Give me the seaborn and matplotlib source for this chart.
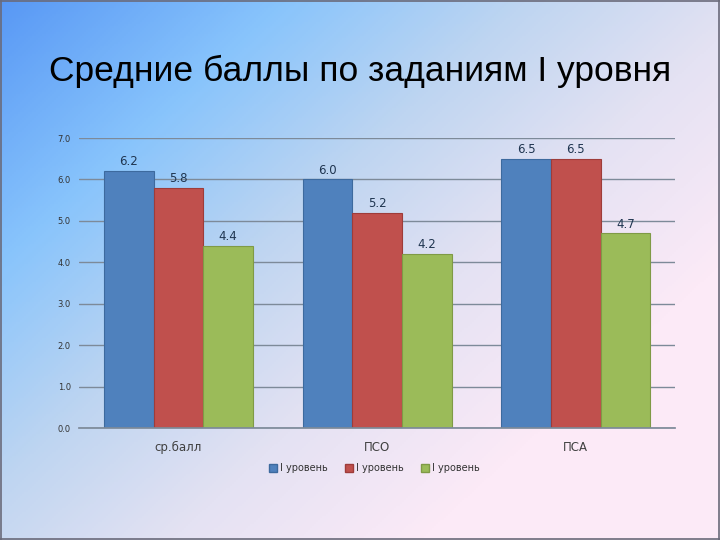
import numpy as np
import pandas as pd
import matplotlib
matplotlib.use("Agg")
import matplotlib.pyplot as plt
import seaborn as sns
from matplotlib.colors import LinearSegmentedColormap
from matplotlib.patches import Patch

categories = ["ср.балл", "ПСО", "ПСА"]
series_keys = ["s1", "s2", "s3"]
series_labels = ["I уровень", "I уровень", "I уровень"]
values_s1 = [6.2, 6.0, 6.5]
values_s2 = [5.8, 5.2, 6.5]
values_s3 = [4.4, 4.2, 4.7]
value_texts_s1 = ["6.2", "6.0", "6.5"]
value_texts_s2 = ["5.8", "5.2", "6.5"]
value_texts_s3 = ["4.4", "4.2", "4.7"]
y_ticks = [0, 1, 2, 3, 4, 5, 6, 7]
title = "Средние баллы по заданиям I уровня"
colors = ["#4f81bd", "#c0504d", "#9bbb59"]
edges = ["#3d6a9e", "#9e3c3a", "#7f9a46"]

df = pd.DataFrame({
    "cat": categories * 3,
    "series": [series_keys[0]] * 3 + [series_keys[1]] * 3 + [series_keys[2]] * 3,
    "val": values_s1 + values_s2 + values_s3,
})

sns.set_theme(style="white")
plt.rcParams["font.family"] = ["DejaVu Sans"]

fig = plt.figure(figsize=(7.2, 5.4), dpi=100)

# background gradient
bg = fig.add_axes([0, 0, 1, 1])
H, W = 270, 360
u = np.linspace(0, 1, W)[None, :]
v = np.linspace(0, 1, H)[:, None]
t = np.clip((u * 1.1 + v * 0.9) / 1.55, 0, 1)
cmap = LinearSegmentedColormap.from_list("bg", [
    (0.0, (88/255, 152/255, 245/255)),
    (0.28, (136/255, 196/255, 252/255)),
    (0.52, (190/255, 213/255, 241/255)),
    (0.75, (228/255, 226/255, 243/255)),
    (1.0, (252/255, 234/255, 247/255)),
])
bg.imshow(t, cmap=cmap, aspect="auto", extent=[0, 1, 0, 1], origin="upper")
bg.set_axis_off()
for x0, y0, x1, y1 in [(0, 0.002, 1, 0.002), (0, 0.998, 1, 0.998), (0.0015, 0, 0.0015, 1), (0.9985, 0, 0.9985, 1)]:
    bg.plot([x0, x1], [y0, y1], color="#6a6a7a", lw=1.2, transform=bg.transAxes)
bg.set_xlim(0, 1)
bg.set_ylim(0, 1)

fig.text(0.5, 0.868, title, ha="center", va="center", fontsize=25.5,
         family="Liberation Sans", color="black")

ax = fig.add_axes([0.110, 0.2074, 0.8275, 0.537])
ax.patch.set_alpha(0)
sns.barplot(data=df, x="cat", y="val", hue="series", hue_order=series_keys,
            palette=colors, order=categories, width=0.75, ax=ax,
            legend=False, saturation=1)
for i, cont in enumerate(ax.containers):
    for p in cont:
        p.set_edgecolor(edges[i])
        p.set_linewidth(0.8)
texts = [value_texts_s1, value_texts_s2, value_texts_s3]
for i, cont in enumerate(ax.containers):
    ax.bar_label(cont, labels=texts[i], padding=2, fontsize=8.5, color="#1f3550")

ax.set_ylim(0, 7)
ax.set_xlim(-0.5, 2.5)
ax.set_yticks(y_ticks)
ax.set_yticklabels([f"{t:.1f}" for t in y_ticks])
ax.yaxis.grid(True, color="#7d8a99", lw=1.0)
ax.set_axisbelow(True)
ax.set_xlabel("")
ax.set_ylabel("")
for s in ["top", "right", "left"]:
    ax.spines[s].set_visible(False)
ax.spines["bottom"].set_color("#7d8a99")
ax.tick_params(axis="y", length=0, pad=6, labelsize=6, labelcolor="#333333")
ax.tick_params(axis="x", length=0, pad=9, labelsize=8.5, labelcolor="#404040")

handles = [Patch(facecolor=colors[i], edgecolor=edges[i], label=series_labels[i]) for i in range(3)]
fig.legend(handles=handles, loc="center", bbox_to_anchor=(0.52, 0.133), ncol=3,
           frameon=False, fontsize=7, handlelength=0.8, handleheight=0.8,
           handletextpad=0.3, columnspacing=1.8, labelcolor="#333333")

fig.savefig("out.png", dpi=100)
